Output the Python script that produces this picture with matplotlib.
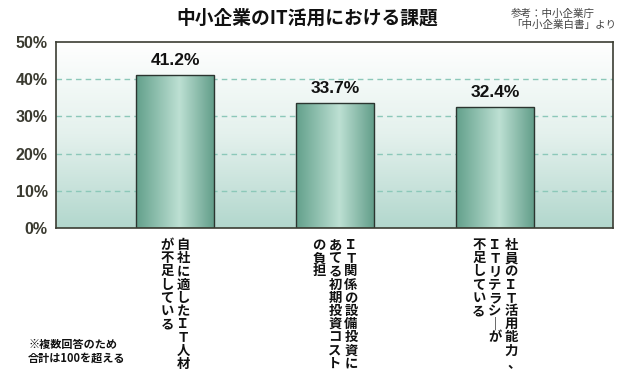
import numpy as np
import matplotlib
matplotlib.use("Agg")
import matplotlib.pyplot as plt
from matplotlib.colors import LinearSegmentedColormap

plt.rcParams['font.family'] = ['Noto Sans CJK JP', 'DejaVu Sans']

# --- data ---
values = [41.2, 33.7, 32.4]
value_labels = ["41.2%", "33.7%", "32.4%"]
# vertical category labels, one string per column (right column first)
category_columns = [
    ["自社に適したＩＴ人材", "が不足している"],
    ["ＩＴ関係の設備投資に", "あてる初期投資コスト", "の負担"],
    ["社員のＩＴ活用能力、", "ＩＴリテラシーが", "不足している"],
]
yticks = [0, 10, 20, 30, 40, 50]
ytick_labels = ["0%", "10%", "20%", "30%", "40%", "50%"]

title = "中小企業のIT活用における課題"
source = "参考：中小企業庁\n「中小企業白書」より"
footnote = "※複数回答のため\n合計は100を超える"

# --- figure ---
fig = plt.figure(figsize=(6.3, 3.76), dpi=100)
ax = fig.add_axes([0.0889, 0.3936, 0.8841, 0.4947])

x = np.arange(len(values))

# background gradient (white top -> light teal bottom)
bg = LinearSegmentedColormap.from_list("bg", ["#b2d7cd", "#e4f1ed", "#ffffff"])
ax.imshow(np.linspace(0, 1, 256).reshape(-1, 1), cmap=bg, origin="lower",
          extent=[0, 1, 0, 1], transform=ax.transAxes, aspect="auto", zorder=0)

# dashed grid
for t in yticks[1:-1]:
    ax.axhline(t, color="#8cc8b9", lw=1.0, ls=(0, (4, 3)), zorder=1)

# bars with horizontal gradient
bar_cmap = LinearSegmentedColormap.from_list(
    "bar", [(0, "#62a08b"), (0.55, "#bde0d3"), (1, "#609c88")])
bars = ax.bar(x, values, width=0.49, facecolor="none", edgecolor="#2b3530",
              lw=1.0, zorder=3)
grad = np.linspace(0, 1, 256).reshape(1, -1)
for b in bars:
    bx, bw, bh = b.get_x(), b.get_width(), b.get_height()
    im = ax.imshow(grad, cmap=bar_cmap, extent=[bx, bx + bw, 0, bh],
                   aspect="auto", zorder=2)
    im.set_clip_path(b)
ax.set_xlim(-0.744, 2.7375)
ax.set_ylim(0, 50)

# value labels
for xi, v, lab in zip(x, values, value_labels):
    ax.annotate(lab, xy=(xi, v), xytext=(0, 7), textcoords="offset pixels",
                ha="center", va="bottom", fontsize=12.5, fontweight="bold",
                family="Liberation Sans", color="#111111")

# vertical category labels
step = 13.2
col_gap = 16
for xi, cols in zip(x, category_columns):
    n = len(cols)
    for ci, col in enumerate(cols):
        dx = ((n - 1) / 2 - ci) * col_gap
        for k, ch in enumerate(col):
            if ch == "ー":
                ch = "｜"
            off_x, off_y = dx, -17 - k * step
            if ch == "、":
                off_x += 3
            ax.annotate(ch, xy=(xi, 0), xytext=(off_x, off_y),
                        textcoords="offset pixels", ha="center", va="center",
                        fontsize=9.6, fontweight="bold", color="#111111",
                        annotation_clip=False)

# axes styling
ax.set_xticks([])
ax.set_yticks(yticks)
ax.set_yticklabels(ytick_labels, fontsize=11.5, fontweight="bold",
                   family="Liberation Sans", color="#3a3a30")
ax.tick_params(axis="y", length=0, pad=6)
for s in ax.spines.values():
    s.set_color("#3b3d33")
    s.set_linewidth(1.2)
    s.set_zorder(4)

# texts
fig.text(0.488, 1 - 18 / 376, title, ha="center", va="center",
         fontsize=13.5, fontweight="bold", color="#111111")
fig.text(511 / 630, 1 - 19 / 376, source, ha="left", va="center",
         fontsize=7.6, color="#444444", linespacing=1.15)
fig.text(28 / 630, 1 - 351 / 376, footnote, ha="left", va="center",
         fontsize=8, fontweight="bold", color="#111111", linespacing=1.1)

fig.savefig("out.png", dpi=100)
